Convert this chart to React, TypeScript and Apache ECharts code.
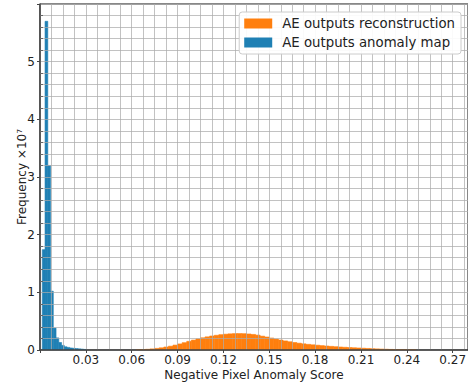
import React, { useEffect, useRef } from "react";
import * as echarts from "echarts";

// Histogram data (counts in units of 1e7)
const blueName = "AE outputs anomaly map";
const orangeName = "AE outputs reconstruction";

const blueFirstEdge = 0.0015;
const blueBinWidth = 0.0018;
const blueCounts = [
  1.74, 5.7, 3.2, 1.02, 0.38, 0.21, 0.13, 0.08, 0.055, 0.045, 0.035, 0.03,
  0.025, 0.02, 0.015, 0.01,
];

const orangeFirstEdge = 0.063;
const orangeBinWidth = 0.003;
const orangeCounts = [
  0.004, 0.008, 0.012, 0.019, 0.028, 0.038, 0.052, 0.066, 0.085, 0.105, 0.127,
  0.15, 0.172, 0.193, 0.212, 0.228, 0.243, 0.255, 0.266, 0.274, 0.28, 0.284,
  0.285, 0.283, 0.278, 0.27, 0.258, 0.24, 0.225, 0.208, 0.19, 0.173, 0.157,
  0.143, 0.13, 0.118, 0.107, 0.098, 0.09, 0.083, 0.076, 0.069, 0.063, 0.057,
  0.052, 0.047, 0.043, 0.039, 0.035, 0.031, 0.027, 0.023, 0.019, 0.016, 0.013,
  0.01, 0.008, 0.006, 0.004, 0.003, 0.002,
];

const xTickStep = 0.03;
const yTickStep = 1;

const toBins = (first: number, width: number, counts: number[]) =>
  counts.map((c, i) => [first + i * width, first + (i + 1) * width, c]);

const FONT = "DejaVu Sans";
const GRID_COLOR = "rgba(170,170,170,0.72)";

const makeRender = (color: string) => (params: any, api: any) => {
  const x0 = api.value(0);
  const x1 = api.value(1);
  const y = api.value(2);
  const p0 = api.coord([x0, y]);
  const p1 = api.coord([x1, 0]);
  return {
    type: "rect",
    shape: { x: p0[0], y: p0[1], width: p1[0] - p0[0], height: p1[1] - p0[1] },
    style: { fill: color, stroke: color, lineWidth: 0.6 },
  };
};

export default function App() {
  const ref = useRef<HTMLDivElement>(null);
  useEffect(() => {
    if (!ref.current) return;
    const chart = echarts.init(ref.current, undefined, { renderer: "svg" });
    const orange = "#ff7f0e";
    const blue = "#1f80b4";
    chart.setOption({
      animation: false,
      textStyle: { fontFamily: FONT },
      grid: {
        left: 40,
        right: 0,
        top: 4,
        bottom: 35,
        containLabel: false,
        outerBoundsMode: "none",
        show: true,
        borderColor: "#111",
        borderWidth: 1,
        backgroundColor: "transparent",
      },
      legend: {
        orient: "vertical",
        right: 7,
        top: 12,
        icon: "rect",
        itemWidth: 28,
        itemHeight: 10,
        itemGap: 6,
        padding: [5, 6, 5, 5],
        backgroundColor: "rgba(255,255,255,0.92)",
        borderColor: "#cccccc",
        borderWidth: 1,
        borderRadius: 3,
        textStyle: {
          fontFamily: FONT,
          fontSize: 13.3,
          color: "#222",
          padding: [0, 0, 0, 5],
        },
        data: [orangeName, blueName],
      },
      xAxis: {
        type: "value",
        min: 0,
        max: 0.28,
        interval: xTickStep,
        z: 3,
        name: "Negative Pixel Anomaly Score",
        nameLocation: "middle",
        nameGap: 19,
        nameMoveOverlap: false,
        nameTextStyle: { fontFamily: FONT, fontSize: 12, color: "#222" },
        axisLine: { show: true, lineStyle: { color: "#444", width: 1.5 } },
        axisTick: { show: true, length: 3, lineStyle: { color: "#444" } },
        axisLabel: {
          fontFamily: FONT,
          fontSize: 12,
          color: "#222",
          margin: 4,
          showMinLabel: false,
          showMaxLabel: false,
          formatter: (v: number) => v.toFixed(2),
        },
        splitLine: { show: true, lineStyle: { color: GRID_COLOR, width: 1 } },
        minorTick: { show: true, splitNumber: 4, length: 0 },
        minorSplitLine: {
          show: true,
          lineStyle: { color: GRID_COLOR, width: 1 },
        },
      },
      yAxis: {
        type: "value",
        min: 0,
        max: 6,
        interval: yTickStep,
        z: 3,
        name: "Frequency ×10⁷",
        nameLocation: "middle",
        nameGap: 12,
        nameMoveOverlap: false,
        nameTextStyle: { fontFamily: FONT, fontSize: 12, color: "#222" },
        axisLine: { show: true, lineStyle: { color: "#444", width: 1.5 } },
        axisTick: { show: true, length: 3, lineStyle: { color: "#444" } },
        axisLabel: {
          fontFamily: FONT,
          fontSize: 12,
          color: "#222",
          margin: 5,
          showMaxLabel: false,
        },
        splitLine: { show: true, lineStyle: { color: GRID_COLOR, width: 1 } },
        minorTick: {
          show: true,
          splitNumber: 5,
          length: -3,
          lineStyle: { color: "#666" },
        },
        minorSplitLine: {
          show: true,
          lineStyle: { color: GRID_COLOR, width: 1 },
        },
      },
      series: [
        {
          name: orangeName,
          type: "custom",
          renderItem: makeRender(orange),
          itemStyle: { color: orange },
          encode: { x: [0, 1], y: 2 },
          data: toBins(orangeFirstEdge, orangeBinWidth, orangeCounts),
        },
        {
          name: blueName,
          type: "custom",
          renderItem: makeRender(blue),
          itemStyle: { color: blue },
          encode: { x: [0, 1], y: 2 },
          data: toBins(blueFirstEdge, blueBinWidth, blueCounts),
        },
      ],
    });
    return () => chart.dispose();
  }, []);
  return (
    <div
      ref={ref}
      style={{ position: "absolute", left: 0, top: 0, width: 468, height: 385 }}
    />
  );
}
